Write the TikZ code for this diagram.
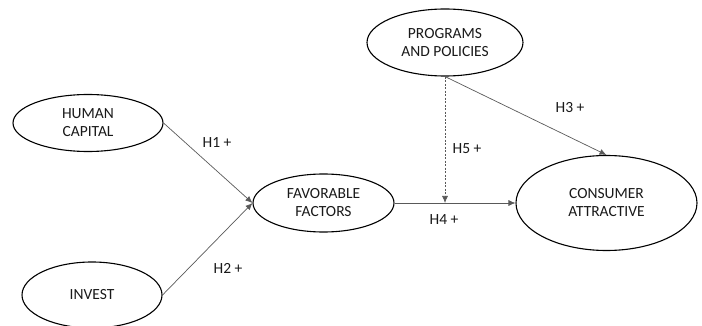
\documentclass[tikz,border=0pt]{standalone}
\usepackage{fontspec}
\setmainfont{Carlito}
\usetikzlibrary{shapes.geometric,arrows.meta}
\begin{document}
\begin{tikzpicture}[x=1pt,y=-1pt,
  construct/.style={draw=black,line width=1.1pt,ellipse,inner sep=0pt,align=center,font=\fontsize{15.5}{18}\selectfont,text=black!90},
  link/.style={draw=black!65,line width=0.7pt,-{Latex[length=7pt,width=6pt]}},
  hyp/.style={font=\fontsize{15.5}{18}\selectfont,text=black!90}]
\useasboundingbox (0,0) rectangle (702,326);
\clip (0,0) rectangle (702,326);
\node[construct,minimum width=150pt,minimum height=57pt] (hc) at (88,123) {HUMAN\\CAPITAL};
\node[construct,minimum width=140pt,minimum height=66pt] (inv) at (92,295) {INVEST};
\node[construct,minimum width=141pt,minimum height=58pt] (ff) at (323.5,203) {FAVORABLE\\FACTORS};
\node[construct,minimum width=156pt,minimum height=67pt] (pp) at (445,42.5) {PROGRAMS\\AND POLICIES};
\node[construct,minimum width=181pt,minimum height=95pt] (ca) at (606.5,203) {CONSUMER\\ATTRACTIVE};
\coordinate (mod) at (pp.south |- ff.east);
\draw[link] (hc.east) -- (ff.west);
\draw[link] (inv.east) -- (ff.west);
\draw[link] (ff.east) -- (ca.west);
\draw[link] (pp.south) -- (ca.north);
\draw[link,dashed,dash pattern=on 2pt off 1.5pt] (pp.south) -- (mod);
\node[hyp] (h1) at (217,143) {H1 +};
\node[hyp] (h2) at (228,268) {H2 +};
\node[hyp] (h3) at (570,108) {H3 +};
\node[hyp] (h4) at (444,220) {H4 +};
\node[hyp] (h5) at (467,149) {H5 +};
\end{tikzpicture}
\end{document}
